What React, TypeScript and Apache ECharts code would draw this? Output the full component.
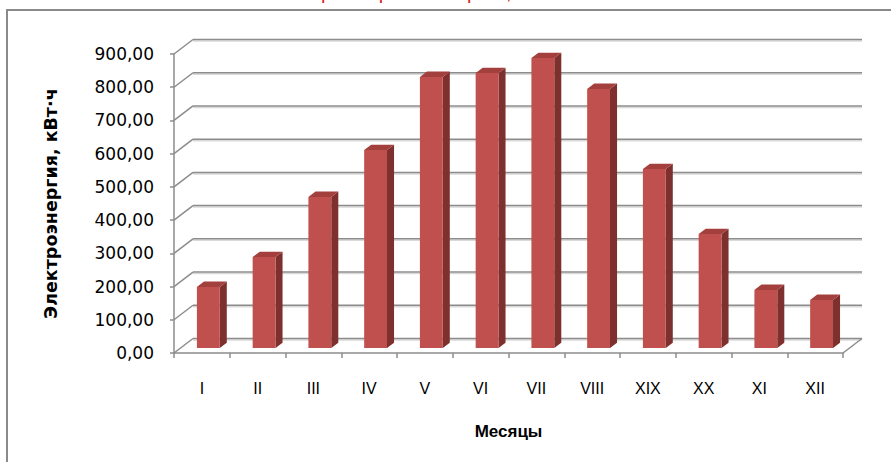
import React, { useEffect, useRef } from "react";
import * as echarts from "echarts";

const months = ["I", "II", "III", "IV", "V", "VI", "VII", "VIII", "XIX", "XX", "XI", "XII"];
const energy = [184, 274, 455, 596, 816, 828, 873, 780, 539, 343, 175, 145];
const yTicks = [0, 100, 200, 300, 400, 500, 600, 700, 800, 900];
const yName = "Электроэнергия, кВт·ч";
const xName = "Месяцы";
const titleText = "При скорости ветра 3,0 м/с";

// 3D projection offsets (pixels) for the depth of the plot
const DX = 19;
const DY = -14.5;
const F0 = 0.34; // bar front depth fraction
const F1 = 0.71; // bar back depth fraction

const FRONT = "#C0504D";
const SIDE = "#7E302E";
const TOP = "#A3403D";
const GRID = "#8c8c8c";
const GRID_SHADOW = "#d9d9d9";

export default function App() {
  const ref = useRef<HTMLDivElement>(null);

  useEffect(() => {
    const chart = echarts.init(ref.current!, null, { renderer: "svg" });
    const fmt = (v: number) => v.toFixed(2).replace(".", ",");

    const option: any = {
      animation: false,
      backgroundColor: "#ffffff",
      graphic: [
        {
          type: "rect",
          z: -10,
          shape: { x: 7, y: 10, width: 900, height: 470 },
          style: { fill: "none", stroke: "#8a8a8a", lineWidth: 2 },
        },
        {
          type: "text",
          x: 432,
          y: 2,
          style: {
            text: titleText,
            fill: "#E0201C",
            font: "20px 'Liberation Sans', Arial, sans-serif",
            align: "center",
            verticalAlign: "bottom",
          },
        },
      ],
      grid: [{ left: 174, right: 48, top: 54, bottom: 109 }],
      xAxis: [
        {
          type: "category",
          data: months,
          boundaryGap: true,
          axisLine: { show: true, lineStyle: { color: GRID, width: 1.5 } },
          axisTick: { show: true, length: 5, lineStyle: { color: GRID, width: 1.5 } },
          axisLabel: {
            margin: 27,
            color: "#000",
            fontFamily: "'Liberation Sans', Arial, sans-serif",
            fontSize: 16,
          },
          name: xName,
          nameLocation: "middle",
          nameGap: 70,
          nameTextStyle: {
            color: "#000",
            fontFamily: "'Liberation Sans', Arial, sans-serif",
            fontWeight: "bold",
            fontSize: 17,
          },
        },
      ],
      yAxis: [
        {
          type: "value",
          min: 0,
          max: 900,
          interval: 100,
          axisLine: { show: true, lineStyle: { color: GRID, width: 1.5 } },
          axisTick: { show: true, length: 4, lineStyle: { color: GRID, width: 1.5 } },
          splitLine: { show: false },
          axisLabel: {
            margin: 20,
            color: "#000",
            fontFamily: "'DejaVu Sans', sans-serif",
            fontSize: 17,
            formatter: fmt,
          },
          name: yName,
          nameLocation: "middle",
          nameGap: 114,
          nameTextStyle: {
            color: "#000",
            fontFamily: "'DejaVu Sans', sans-serif",
            fontWeight: "bold",
            fontSize: 17.5,
          },
        },
      ],
      series: [
        {
          type: "custom",
          name: "walls",
          silent: true,
          z: 1,
          data: yTicks.map((v) => [0, v]),
          renderItem: (params: any, api: any) => {
            const v = api.value(1);
            const y = api.coord([0, v])[1];
            const cs = params.coordSys;
            const x = cs.x;
            const xr = cs.x + cs.width;
            const children: any[] = [
              {
                type: "line",
                shape: { x1: x + DX, y1: y + DY + 1.5, x2: xr + DX, y2: y + DY + 1.5 },
                style: { stroke: GRID_SHADOW, lineWidth: 1.5 },
              },
              {
                type: "line",
                shape: { x1: x + DX, y1: y + DY, x2: xr + DX, y2: y + DY },
                style: { stroke: GRID, lineWidth: 1.5 },
              },
              {
                type: "line",
                shape: { x1: x, y1: y, x2: x + DX, y2: y + DY },
                style: { stroke: GRID, lineWidth: 1.5 },
              },
            ];
            if (v === 0) {
              children.push({
                type: "line",
                shape: { x1: xr, y1: y, x2: xr + DX, y2: y + DY },
                style: { stroke: GRID, lineWidth: 1.5 },
              });
            }
            return { type: "group", children };
          },
        },
        {
          type: "custom",
          name: "Электроэнергия",
          z: 5,
          data: energy.map((v, i) => [i, v]),
          renderItem: (params: any, api: any) => {
            const i = api.value(0);
            const v = api.value(1);
            const top = api.coord([i, v]);
            const base = api.coord([i, 0]);
            const band = api.size([1, 0])[0];
            const w = band * 0.41;
            const ox = DX * F0;
            const oy = DY * F0;
            const dx = DX * (F1 - F0);
            const dy = DY * (F1 - F0);
            const x0 = base[0] - w / 2 + ox;
            const x1 = x0 + w;
            const yb = base[1] + oy;
            const yt = top[1] + oy;
            return {
              type: "group",
              children: [
                {
                  type: "polygon",
                  shape: { points: [[x1, yt], [x1 + dx, yt + dy], [x1 + dx, yb + dy], [x1, yb]] },
                  style: { fill: SIDE },
                },
                {
                  type: "polygon",
                  shape: { points: [[x0, yt], [x1, yt], [x1 + dx, yt + dy], [x0 + dx, yt + dy]] },
                  style: { fill: TOP },
                },
                {
                  type: "rect",
                  shape: { x: x0, y: yt, width: w, height: yb - yt },
                  style: { fill: FRONT },
                },
              ],
            };
          },
        },
      ],
    };

    chart.setOption(option);
    return () => chart.dispose();
  }, []);

  return (
    <div
      ref={ref}
      style={{ position: "absolute", left: 0, top: 0, width: 891, height: 462 }}
    />
  );
}
